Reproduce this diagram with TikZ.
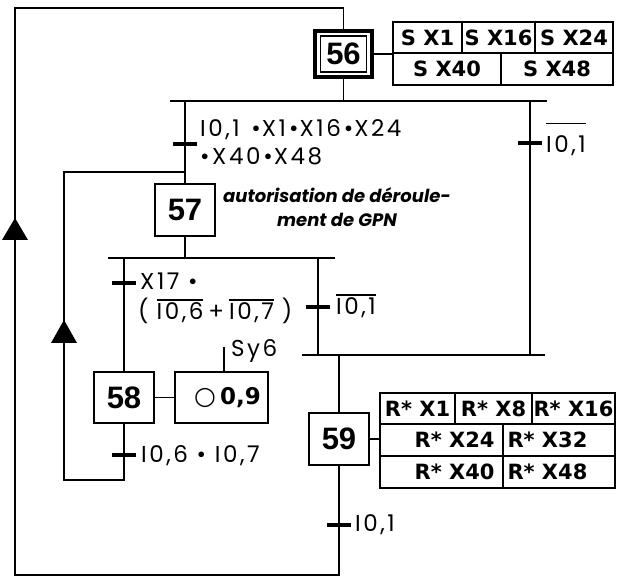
\documentclass[tikz,border=0pt]{standalone}
\usepackage{fontspec}
\setmainfont{Poppins}
\newfontfamily\trf{Poppins}[LetterSpace=11]
\newfontfamily\cmf{Poppins}
\newfontfamily\numf{Liberation Sans}
\newfontfamily\actf{DejaVu Sans}
\newcommand\ovbar[2][2.5pt]{\leavevmode\vbox{\hrule height 1.3pt\kern#1\hbox{#2}}}
\newcommand\bul{\hspace{3pt}\textbullet\hspace{1pt}}
\tikzset{
  ln/.style={line width=1.4pt},
  trbar/.style={line width=3.4pt},
  stepbox/.style={draw, line width=1.4pt, inner sep=0pt, minimum width=60pt, minimum height=52pt,
    font=\numf\bfseries\fontsize{31}{31}\selectfont},
  cell/.style={draw, line width=1.4pt, inner sep=0pt, font=\actf\bfseries\fontsize{21}{21}\selectfont},
  celltext/.style={inner sep=0pt, font=\actf\bfseries\fontsize{21}{21}\selectfont},
  trtext/.style={anchor=base west, inner sep=0pt, font=\trf\fontsize{23}{27}\selectfont},
}
\begin{document}
\begin{tikzpicture}[x=1pt,y=-1pt]
\useasboundingbox (0,0) rectangle (625,577);
% steps
\node[draw, line width=3.5pt, minimum width=57pt, minimum height=46pt, inner sep=0pt] (s56o) at (343.5,54) {};
\node[stepbox, minimum width=46pt, minimum height=36pt] (s56) at (343.5,54) {56};
\node[stepbox] (s57) at (185,210) {57};
\node[stepbox, minimum height=51pt] (s58) at (124,397.5) {58};
\node[stepbox] (s59) at (339,439) {59};
% action boxes of 56
\node[cell, minimum width=69pt, minimum height=31pt] (c56a) at (427.5,37.5) {S X1};
\node[cell, minimum width=73pt, minimum height=31pt] (c56b) at (498.5,37.5) {S X16};
\node[cell, minimum width=78pt, minimum height=31pt] (c56c) at (574,37.5) {S X24};
\node[cell, minimum width=108pt, minimum height=32pt] (c56d) at (447,69) {S X40};
\node[cell, minimum width=112pt, minimum height=32pt] (c56e) at (557,69) {S X48};
\draw[ln] (s56o.east) -- (s56o.east -| c56d.west);
% action boxes of 59
\node[cell, minimum width=75pt, minimum height=31pt] (c59a) at (417.5,408.5) {R* X1};
\node[cell, minimum width=77pt, minimum height=31pt] (c59b) at (493.5,408.5) {R* X8};
\node[cell, minimum width=83pt, minimum height=31pt] (c59c) at (573.5,408.5) {R* X16};
\node[cell, minimum width=123pt, minimum height=32pt] (c59d) at (441.5,440) {};
\node[cell, minimum width=112pt, minimum height=32pt] (c59e) at (559,440) {};
\node[cell, minimum width=123pt, minimum height=32pt] (c59f) at (441.5,472) {};
\node[cell, minimum width=112pt, minimum height=32pt] (c59g) at (559,472) {};
\node[celltext, anchor=east] (r24) at ([xshift=-9pt]c59d.east) {R* X24};
\node[celltext, anchor=west] (r32) at ([xshift=5pt]c59e.west) {R* X32};
\node[celltext, anchor=east] (r40) at ([xshift=-9pt]c59f.east) {R* X40};
\node[celltext, anchor=west] (r48) at ([xshift=5pt]c59g.west) {R* X48};
\draw[ln] (s59.east) -- (s59.east -| c59d.west);
% action of 58
\node[draw, line width=1.4pt, minimum width=93pt, minimum height=51pt, inner sep=0pt] (a58) at (221.5,397.5) {};
\node[inner sep=0pt, anchor=base west] (a58t) at (194,405) {{\actf\fontsize{25}{25}\selectfont ○}\hspace{4pt}{\actf\bfseries\fontsize{23}{23}\selectfont 0,9}};
\draw[ln] (s58.east) -- (a58.west);
\coordinate (sy) at (224,347);
\draw[ln] (sy) -- (sy |- a58.north);
\node[trtext] (sy6) at (231,357) {Sy6};
% divergence 1
\coordinate (d1l) at (170,101);
\coordinate (d1r) at (547,101);
\draw[ln] (d1l) -- (d1r);
\draw[ln] (s56o.south) -- (s56o.south |- d1l);
\coordinate (b1) at (185,101);
\coordinate (b2) at (530,101);
\draw[ln] (b1) -- (s57.north);
% convergence
\coordinate (c1l) at (302,355);
\coordinate (c1r) at (545,355);
\draw[ln] (c1l) -- (c1r);
\draw[ln] (b2) -- (b2 |- c1l);
\draw[ln] (s59.north |- c1l) -- (s59.north);
% divergence 2
\coordinate (d2l) at (108,258);
\coordinate (d2r) at (335,258);
\draw[ln] (d2l) -- (d2r);
\draw[ln] (s57.south) -- (s57.south |- d2l);
\coordinate (b3) at (124,258);
\coordinate (b4) at (318,258);
\draw[ln] (b3) -- (s58.north);
\draw[ln] (b4) -- (b4 |- c1l);
% loops
\coordinate (lo1) at (339,575);
\coordinate (lo2) at (15,575);
\coordinate (lo3) at (15,8);
\coordinate (lo4) at (343.5,8);
\draw[ln] (s59.south) -- (lo1) -- (lo2) -- (lo3) -- (lo4) -- (s56o.north);
\coordinate (li1) at (124,480);
\coordinate (li2) at (64,480);
\coordinate (li3) at (64,172);
\coordinate (li4) at (185,172);
\draw[ln] (s58.south) -- (li1) -- (li2) -- (li3) -- (li4);
\fill (15,218) -- (28,240) -- (2,240) -- cycle;
\fill (64,320) -- (77,343) -- (51,343) -- cycle;
% transitions
\coordinate (t1) at (185,144);
\coordinate (t2) at (530,143);
\coordinate (t3) at (124,283);
\coordinate (t4) at (318,307);
\coordinate (t5) at (124,455);
\coordinate (t6) at (339,525);
\foreach \t in {t1,t2,t3,t4,t5,t6}{
  \draw[trbar] ([xshift=-12pt]\t) -- ([xshift=12pt]\t);
}
\node[trtext] (tr1a) at (200,137) {I0,1 \bul X1\bul X16\bul X24};
\node[trtext] (tr1b) at (200,165) {\textbullet X40\bul X48};
\node[trtext] (tr2) at (546,153) {\ovbar[12pt]{I0,1}};
\node[trtext] (tr3a) at (140,290) {X17 \textbullet};
\node[trtext] (tr3b) at (138,320) {(\kern8pt\ovbar{I0,6}\kern5pt+\kern5pt\ovbar{I0,7}\kern8pt)};
\node[trtext] (tr4) at (336,315) {\ovbar{I0,1}};
\node[trtext] (tr5) at (141,463) {I0,6 \textbullet{} I0,7};
\node[trtext] (tr6) at (355,532) {I0,1};
% comment
\node[inner sep=0pt, align=center, font=\cmf\bfseries\itshape\fontsize{18}{24}\selectfont] (com) at (337,207) {autorisation de déroule-\\ment de GPN};
\end{tikzpicture}
\end{document}
